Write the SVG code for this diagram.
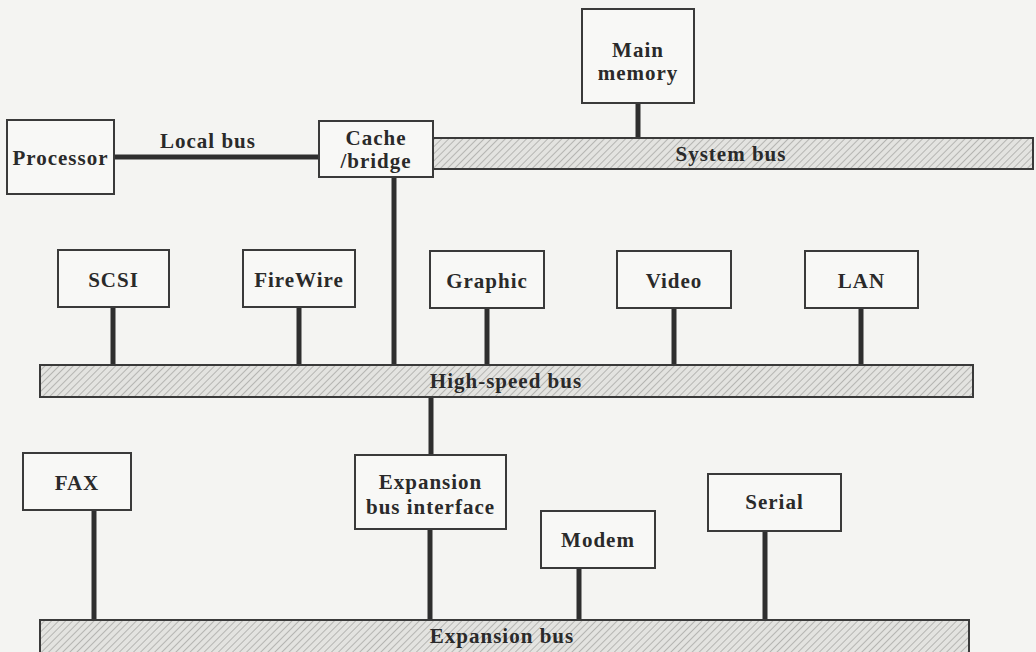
<svg xmlns="http://www.w3.org/2000/svg" width="1036" height="652" viewBox="0 0 1036 652">
<defs>
<pattern id="hatch" patternUnits="userSpaceOnUse" width="5" height="5" patternTransform="rotate(45)">
<rect width="5" height="5" fill="#e3e3e0"/>
<line x1="0" y1="0" x2="0" y2="5" stroke="#9c9c99" stroke-width="1.3"/>
</pattern>
<style>
.box{fill:#f8f8f6;stroke:#3a3a3a;stroke-width:2}
.bus{fill:url(#hatch);stroke:#3a3a3a;stroke-width:2}
.lbl{font-family:"Liberation Serif","Times New Roman",serif;font-weight:bold;font-size:21px;letter-spacing:1px;fill:#2a2a2a;text-anchor:middle}
.wire{stroke:#2e2e2e;stroke-width:5;fill:none}
</style>
</defs>
<rect width="1036" height="652" fill="#f4f4f2"/>
<g id="connectors">
<line class="wire" x1="114" y1="157" x2="319" y2="157"/>
<line class="wire" x1="638" y1="103" x2="638" y2="138"/>
<line class="wire" x1="394" y1="177" x2="394" y2="365"/>
<line class="wire" x1="113" y1="307" x2="113" y2="365"/>
<line class="wire" x1="299" y1="307" x2="299" y2="365"/>
<line class="wire" x1="487" y1="307" x2="487" y2="365"/>
<line class="wire" x1="674" y1="308" x2="674" y2="365"/>
<line class="wire" x1="861" y1="308" x2="861" y2="365"/>
<line class="wire" x1="431" y1="397" x2="431" y2="455"/>
<line class="wire" x1="94" y1="510" x2="94" y2="620"/>
<line class="wire" x1="430" y1="529" x2="430" y2="620"/>
<line class="wire" x1="579" y1="568" x2="579" y2="620"/>
<line class="wire" x1="765" y1="531" x2="765" y2="620"/>
</g>
<g id="system-bus"><rect class="bus" x="433" y="138" width="600" height="31"/><text class="lbl" x="731" y="161">System bus</text></g>
<g id="high-speed-bus"><rect class="bus" x="40" y="365" width="933" height="32"/><text class="lbl" x="506" y="388">High-speed bus</text></g>
<g id="expansion-bus"><rect class="bus" x="40" y="620" width="929" height="34"/><text class="lbl" x="502" y="643">Expansion bus</text></g>
<g id="local-bus-label"><text class="lbl" x="208" y="148">Local bus</text></g>
<g id="processor"><rect class="box" x="7" y="120" width="107" height="74"/><text class="lbl" x="60.5" y="165">Processor</text></g>
<g id="cache-bridge"><rect class="box" x="319" y="121" width="114" height="56"/><text class="lbl" x="376" y="145">Cache</text><text class="lbl" x="376" y="168">/bridge</text></g>
<g id="main-memory"><rect class="box" x="582" y="9" width="112" height="94"/><text class="lbl" x="638" y="57">Main</text><text class="lbl" x="638" y="80">memory</text></g>
<g id="scsi"><rect class="box" x="58" y="250" width="111" height="57"/><text class="lbl" x="113.5" y="287">SCSI</text></g>
<g id="firewire"><rect class="box" x="243" y="250" width="112" height="57"/><text class="lbl" x="299" y="287">FireWire</text></g>
<g id="graphic"><rect class="box" x="430" y="251" width="114" height="57"/><text class="lbl" x="487" y="288">Graphic</text></g>
<g id="video"><rect class="box" x="617" y="251" width="114" height="57"/><text class="lbl" x="674" y="288">Video</text></g>
<g id="lan"><rect class="box" x="805" y="251" width="113" height="57"/><text class="lbl" x="861.5" y="288">LAN</text></g>
<g id="fax"><rect class="box" x="23" y="453" width="108" height="57"/><text class="lbl" x="77" y="490">FAX</text></g>
<g id="expansion-bus-interface"><rect class="box" x="355" y="455" width="151" height="74"/><text class="lbl" x="430.5" y="489">Expansion</text><text class="lbl" x="430.5" y="514">bus interface</text></g>
<g id="modem"><rect class="box" x="541" y="511" width="114" height="57"/><text class="lbl" x="598" y="547">Modem</text></g>
<g id="serial"><rect class="box" x="708" y="474" width="133" height="57"/><text class="lbl" x="774.5" y="509">Serial</text></g>
</svg>
